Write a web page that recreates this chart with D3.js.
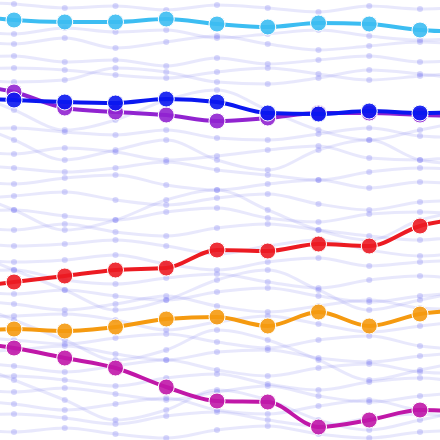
<!DOCTYPE html>
<html><head><meta charset="utf-8">
<script src="https://cdn.jsdelivr.net/npm/d3@7"></script>
<style>body{margin:0;background:#fff}</style>
</head><body><div id="graf"></div>
<script>
// x steps (two off-screen steps keep the curves running past the edges)
const steps = [0, 1, 2, 3, 4, 5, 6, 7, 8, 9, 10]

// highlighted series (rank position, smaller = higher)
const cyan = [14, 20, 22, 22, 19, 24, 27, 23, 24, 30, 32]
const blue = [98, 100, 102, 103, 99, 102, 113, 114, 111, 113, 112]
const purple = [84, 92, 108, 112, 115, 121, 118, 113, 113, 115, 116]
const red = [288, 282, 276, 270, 268, 250, 251, 244, 246, 226, 218]
const orange = [333, 329, 331, 327, 319, 317, 326, 312, 326, 314, 310]
const magenta = [342, 348, 358, 368, 387, 401, 402, 427, 420, 410, 412]

const background = [
  [2, 4, 8, 6, 10, 5, 8, 12, 6, 9, 7],
  [30, 34, 28, 32, 30, 38, 34, 30, 36, 40, 38],
  [40, 44, 38, 48, 42, 36, 44, 50, 46, 42, 45],
  [58, 56, 62, 60, 66, 58, 64, 60, 56, 62, 60],
  [70, 68, 70, 75, 78, 72, 68, 74, 80, 76, 72],
  [78, 82, 80, 68, 72, 82, 84, 78, 70, 74, 80],
  [130, 128, 132, 135, 130, 138, 140, 134, 128, 136, 138],
  [150, 154, 148, 152, 160, 156, 150, 146, 158, 160, 154],
  [165, 168, 172, 168, 162, 170, 175, 180, 172, 168, 170],
  [180, 184, 178, 175, 185, 190, 184, 180, 188, 182, 185],
  [200, 196, 192, 200, 205, 198, 194, 204, 210, 202, 200],
  [212, 210, 216, 220, 212, 208, 218, 222, 214, 212, 215],
  [226, 230, 224, 232, 236, 228, 224, 230, 236, 240, 234],
  [240, 246, 244, 240, 246, 254, 246, 240, 250, 256, 252],
  [258, 262, 260, 255, 264, 270, 262, 258, 266, 262, 260],
  [272, 270, 280, 284, 278, 274, 282, 288, 280, 276, 280],
  [290, 294, 290, 296, 300, 292, 288, 296, 302, 296, 292],
  [300, 304, 310, 304, 296, 306, 312, 306, 300, 308, 310],
  [318, 316, 314, 320, 330, 322, 316, 324, 332, 326, 320],
  [336, 340, 344, 338, 334, 342, 348, 340, 336, 346, 350],
  [352, 350, 346, 354, 360, 352, 350, 358, 362, 356, 352],
  [362, 366, 372, 366, 360, 370, 376, 368, 364, 372, 374],
  [378, 376, 380, 386, 378, 374, 384, 390, 382, 378, 384],
  [388, 392, 388, 394, 400, 392, 386, 396, 402, 396, 392],
  [400, 404, 410, 404, 398, 410, 414, 406, 400, 410, 412],
  [416, 414, 418, 424, 416, 412, 420, 426, 418, 414, 420],
  [428, 432, 428, 434, 438, 430, 426, 434, 438, 432, 430],
  [120, 140, 160, 150, 140, 160, 170, 150, 140, 160, 165],
  [190, 210, 230, 220, 200, 190, 210, 230, 240, 220, 210],
  [250, 270, 290, 310, 300, 280, 270, 290, 310, 300, 290],
  [300, 320, 340, 360, 350, 330, 340, 360, 380, 370, 360],
  [360, 380, 400, 420, 410, 390, 400, 420, 430, 420, 410],
  [90, 110, 130, 120, 100, 90, 110, 130, 140, 130, 120]
]

const highlighted = [
  { values: cyan, color: "#3cbdf2" },
  { values: purple, color: "#9123d0" },
  { values: blue, color: "#0a17f0" },
  { values: red, color: "#ec1b22" },
  { values: orange, color: "#f59a10" },
  { values: magenta, color: "#c017a8" }
]

const ancho = 440
const alto = 440

const svg = d3.select("#graf").append("svg")
  .attr("width", ancho).attr("height", alto)

const x = d3.scaleLinear().domain([1, 9]).range([14, 420])
const y = d3.scaleLinear().domain([0, 440]).range([0, 440])

const linea = d3.line()
  .x((d, i) => x(steps[i]))
  .y((d) => y(d))
  .curve(d3.curveMonotoneX)

// background lines
const bg = svg.append("g")
background.forEach((serie) => {
  bg.append("path")
    .attr("d", linea(serie))
    .attr("fill", "none")
    .attr("stroke", "#8080f0")
    .attr("stroke-opacity", 0.18)
    .attr("stroke-width", 3)
  bg.selectAll(null).data(serie).enter()
    .append("circle")
    .attr("cx", (d, i) => x(steps[i]))
    .attr("cy", (d) => y(d))
    .attr("r", 3)
    .attr("fill", "#6a6af0")
    .attr("fill-opacity", 0.25)
})

// highlighted lines
highlighted.forEach((s) => {
  const gr = svg.append("g")
  gr.append("path")
    .attr("d", linea(s.values))
    .attr("fill", "none")
    .attr("stroke", s.color)
    .attr("stroke-width", 4)
  gr.selectAll(null).data(s.values).enter()
    .append("circle")
    .attr("cx", (d, i) => x(steps[i]))
    .attr("cy", (d) => y(d))
    .attr("r", 8)
    .attr("fill", s.color)
    .attr("fill-opacity", 0.9)
    .attr("stroke", "#fff")
    .attr("stroke-width", 1)
})
</script>
</body></html>
